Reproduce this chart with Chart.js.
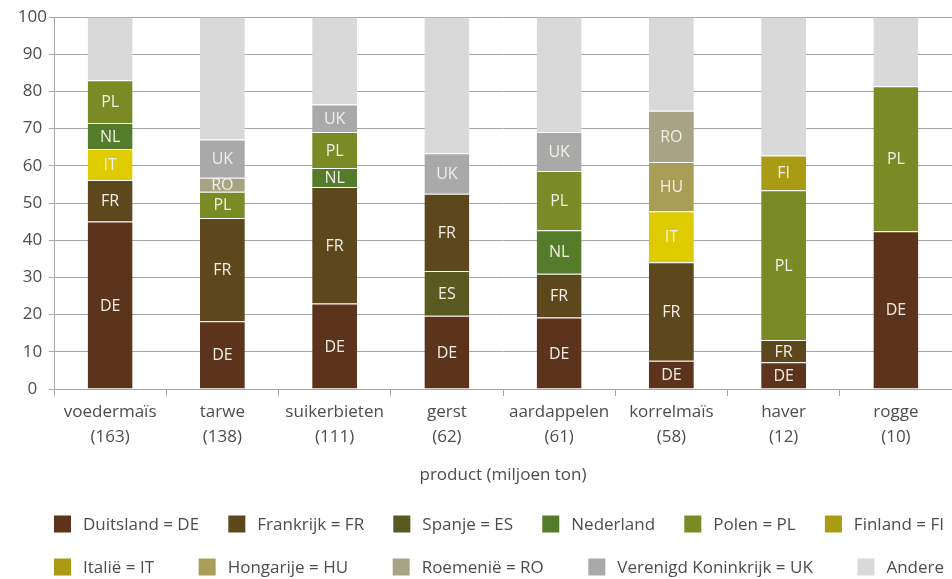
<!DOCTYPE html>
<html><head><meta charset="utf-8">
<script src="https://cdn.jsdelivr.net/npm/chart.js@4"></script>
<style>html,body{margin:0;padding:0;background:#fff}#wrap{width:952px;height:579px;position:relative}</style>
</head><body><div id="wrap"><canvas id="c"></canvas></div>
<script>
// ---- data ----
const categories = ['voedermaïs','tarwe','suikerbieten','gerst','aardappelen','korrelmaïs','haver','rogge'];
const production = ['(163)','(138)','(111)','(62)','(61)','(58)','(12)','(10)'];
const yTickValues = [0,10,20,30,40,50,60,70,80,90,100];
const axisTitle = 'product (miljoen ton)';

// share (%) per country, in stacking order (bottom -> top)
const DE = [45.0, 18.2, 23.0, 19.7, 19.2, 7.6, 7.2, 42.4];
const ES = [null, null, null, 12.0, null, null, null, null];
const FR = [11.2, 27.8, 31.3, 20.8, 11.8, 26.5, 6.0, null];
const IT = [8.3, null, null, null, null, 13.7, null, null];
const NL = [7.0, null, 5.1, null, 11.7, null, null, null];
const PL = [11.5, 7.0, 9.7, null, 15.9, null, 40.2, 39.0];
const FI = [null, null, null, null, null, null, 9.4, null];
const HU = [null, null, null, null, null, 13.2, null, null];
const RO = [null, 3.8, null, null, null, 13.8, null, null];
const UK = [null, 10.3, 7.4, 10.9, 10.5, null, null, null];
const Andere = [17.0, 32.9, 23.5, 36.6, 30.9, 25.2, 37.2, 18.6];

const seriesNames = ['Duitsland = DE','Spanje = ES','Frankrijk = FR','Italië = IT','Nederland','Polen = PL','Finland = FI','Hongarije = HU','Roemenië = RO','Verenigd Koninkrijk = UK','Andere'];
const seriesAbbr  = ['DE','ES','FR','IT','NL','PL','FI','HU','RO','UK',''];
const seriesData  = [DE, ES, FR, IT, NL, PL, FI, HU, RO, UK, Andere];
const seriesColors = ['#5c331b','#5a5a20','#5c481c','#dfcc00','#547c2a','#7a8a25','#a99b13','#a89e58','#a7a385','#a9a9a9','#d9d9d9'];
const legendSwatch = {'Italië = IT':'#a99b13'};
const legendRows = [
  ['Duitsland = DE','Frankrijk = FR','Spanje = ES','Nederland','Polen = PL','Finland = FI'],
  ['Italië = IT','Hongarije = HU','Roemenië = RO','Verenigd Koninkrijk = UK','Andere']
];

const FONT = '"Open Sans", "Noto Sans", sans-serif';
const TEXT = '#4d4d4d';
const GRID = '#a6a6a6';

const segmentLabels = {
  id: 'segmentLabels',
  afterDatasetsDraw(chart) {
    const ctx = chart.ctx;
    ctx.save();
    ctx.font = '16px ' + FONT;
    ctx.fillStyle = '#f2efe6';
    ctx.textAlign = 'center';
    ctx.textBaseline = 'middle';
    chart.data.datasets.forEach((ds, i) => {
      if (!ds.abbr) return;
      const meta = chart.getDatasetMeta(i);
      meta.data.forEach((bar, j) => {
        const v = ds.data[j];
        if (v == null) return;
        const p = bar.getProps(['x','y','base'], true);
        ctx.fillText(ds.abbr, p.x, (p.y + p.base) / 2 + 1);
      });
    });
    ctx.restore();
  }
};

const justifiedLegend = {
  id: 'justifiedLegend',
  afterDraw(chart) {
    const ctx = chart.ctx;
    const left = chart.chartArea.left;
    const right = chart.width - 8;
    const box = 17, textGap = 12;
    const rowY = [chart.height - 55, chart.height - 12];
    ctx.save();
    ctx.font = '17px ' + FONT;
    ctx.textBaseline = 'middle';
    ctx.textAlign = 'left';
    legendRows.forEach((row, r) => {
      const items = row.map(name => {
        const ds = chart.data.datasets.find(d => d.label === name);
        return {name, color: legendSwatch[name] || ds.backgroundColor, w: box + textGap + ctx.measureText(name).width};
      });
      const total = items.reduce((a, b) => a + b.w, 0);
      const gap = (right - left - total) / (items.length - 1);
      let x = left;
      items.forEach(it => {
        ctx.fillStyle = it.color;
        ctx.fillRect(x, rowY[r] - box / 2, box, box);
        ctx.fillStyle = TEXT;
        ctx.fillText(it.name, x + box + textGap, rowY[r] + 1);
        x += it.w + gap;
      });
    });
    ctx.restore();
  }
};

new Chart(document.getElementById('c'), {
  type: 'bar',
  data: {
    labels: categories,
    datasets: seriesNames.map((name, i) => ({
      label: name,
      abbr: seriesAbbr[i],
      data: seriesData[i],
      backgroundColor: seriesColors[i],
      borderColor: 'rgba(255,255,255,0.14)',
      borderWidth: {top: 1, left: 0, right: 0, bottom: 0},
      borderSkipped: false,
      barPercentage: 0.4,
      categoryPercentage: 1.0
    }))
  },
  options: {
    responsive: true,
    maintainAspectRatio: false,
    animation: false,
    layout: { padding: { top: 17, right: 0, bottom: 90, left: 0 } },
    plugins: {
      legend: { display: false },
      tooltip: { enabled: false }
    },
    scales: {
      x: {
        stacked: true,
        offset: true,
        grid: { display: true, drawOnChartArea: false, color: GRID, tickLength: 7, offset: true },
        border: { color: GRID, width: 1 },
        ticks: {
          color: TEXT,
          font: { family: FONT, size: 17, lineHeight: 1.5 },
          padding: 3,
          maxRotation: 0,
          autoSkip: false,
          callback: (v, i) => [categories[i], production[i]]
        },
        title: { display: true, text: axisTitle, color: TEXT, font: { family: FONT, size: 17 }, padding: { top: 0, bottom: 4 } },
        afterFit(scale) { scale.height = 100; }
      },
      y: {
        stacked: true,
        min: 0,
        max: 100,
        afterBuildTicks(scale) { scale.ticks = yTickValues.map(v => ({ value: v })); },
        grid: { color: GRID, tickLength: 5 },
        border: { color: GRID, width: 1 },
        ticks: {
          color: TEXT,
          font: { family: FONT, size: 17 },
          padding: 2,
          crossAlign: 'center'
        },
        afterFit(scale) { scale.width = 54; }
      }
    }
  },
  plugins: [segmentLabels, justifiedLegend]
});
</script>
</body></html>
